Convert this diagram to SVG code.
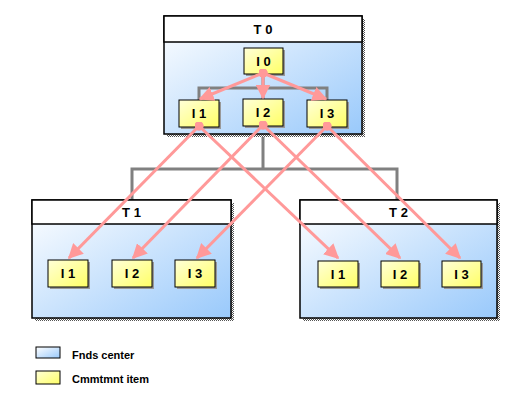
<svg xmlns="http://www.w3.org/2000/svg" width="524" height="405" viewBox="0 0 524 405">
<defs>
<linearGradient id="gc" x1="0" y1="0" x2="1" y2="1"><stop offset="0" stop-color="#ffffff"/><stop offset="1" stop-color="#99c9fb"/></linearGradient>
<linearGradient id="gi" x1="0" y1="0" x2="1" y2="1"><stop offset="0" stop-color="#ffffd8"/><stop offset="1" stop-color="#ffff66"/></linearGradient>
<pattern id="sh" width="2" height="2" patternUnits="userSpaceOnUse"><rect width="2" height="2" fill="#ffffff"/><rect width="1" height="1" fill="#555"/><rect x="1" y="1" width="1" height="1" fill="#555"/></pattern>
<marker id="ah" viewBox="0 0 10 10" refX="9" refY="5" markerWidth="5" markerHeight="5" orient="auto" markerUnits="strokeWidth"><path d="M0,0 L10,5 L0,10 z" fill="#ff9999"/></marker>
<marker id="dot" viewBox="0 0 10 10" refX="5" refY="5" markerWidth="3" markerHeight="3" markerUnits="strokeWidth"><circle cx="5" cy="5" r="5" fill="#ff9999"/></marker>
</defs>
<style>
.cont{fill:url(#gc);stroke:#000;stroke-width:1.5}
.hdr{fill:#fff;stroke:#000;stroke-width:1.5}
.item{fill:url(#gi);stroke:#000;stroke-width:1}
.ish{fill:#999}
.t{font-family:"Liberation Sans",Arial,sans-serif;font-weight:bold;font-size:13px;text-anchor:middle;fill:#000}
.lg{font-family:"Liberation Sans",Arial,sans-serif;font-weight:bold;font-size:11px;fill:#000}
.tree{fill:none;stroke:#808080;stroke-width:3}
.pk{fill:none;stroke:#ff9999;stroke-width:3;marker-end:url(#ah);marker-start:url(#dot)}
</style>
<rect width="524" height="405" fill="#fff"/>
<g id="tree">
<path class="tree" d="M263,134 V169 M132,200 V169 H397 V200"/>
</g>
<g id="T0">
<rect x="167" y="19" width="198" height="118" fill="url(#sh)"/>
<rect class="cont" x="164" y="16" width="198" height="118"/>
<rect class="hdr" x="164" y="16" width="198" height="26"/>
<text class="t" x="263" y="34">T 0</text>
<path class="tree" d="M263,74 V99 M199,100 V88 H327 V100"/>
<g id="T0_I0"><rect class="ish" x="246" y="50" width="39" height="26"/><rect class="item" x="244" y="48" width="39" height="26"/><text class="t" x="263.5" y="66">I 0</text></g>
<g id="T0_I1"><rect class="ish" x="181" y="102" width="40" height="27"/><rect class="item" x="179" y="100" width="40" height="27"/><text class="t" x="199" y="118">I 1</text></g>
<g id="T0_I2"><rect class="ish" x="245" y="101" width="40" height="27"/><rect class="item" x="243" y="99" width="40" height="27"/><text class="t" x="263" y="117">I 2</text></g>
<g id="T0_I3"><rect class="ish" x="309" y="102" width="40" height="27"/><rect class="item" x="307" y="100" width="40" height="27"/><text class="t" x="327" y="118">I 3</text></g>
</g>
<g id="T1">
<rect x="35" y="203" width="199" height="118" fill="url(#sh)"/>
<rect class="cont" x="32" y="200" width="199" height="118"/>
<rect class="hdr" x="32" y="200" width="199" height="24"/>
<text class="t" x="131.5" y="217">T 1</text>
<g id="T1_I1"><rect class="ish" x="50" y="262" width="40" height="27"/><rect class="item" x="48" y="260" width="40" height="27"/><text class="t" x="68" y="278">I 1</text></g>
<g id="T1_I2"><rect class="ish" x="114" y="262" width="40" height="27"/><rect class="item" x="112" y="260" width="40" height="27"/><text class="t" x="132" y="278">I 2</text></g>
<g id="T1_I3"><rect class="ish" x="177" y="262" width="40" height="27"/><rect class="item" x="175" y="260" width="40" height="27"/><text class="t" x="195" y="278">I 3</text></g>
</g>
<g id="T2">
<rect x="303" y="203" width="197" height="118" fill="url(#sh)"/>
<rect class="cont" x="300" y="200" width="197" height="118"/>
<rect class="hdr" x="300" y="200" width="197" height="24"/>
<text class="t" x="398.5" y="217">T 2</text>
<g id="T2_I1"><rect class="ish" x="320" y="263" width="40" height="26"/><rect class="item" x="318" y="261" width="40" height="26"/><text class="t" x="338" y="279">I 1</text></g>
<g id="T2_I2"><rect class="ish" x="383" y="263" width="38" height="26"/><rect class="item" x="381" y="261" width="38" height="26"/><text class="t" x="400" y="279">I 2</text></g>
<g id="T2_I3"><rect class="ish" x="444" y="263" width="39" height="26"/><rect class="item" x="442" y="261" width="39" height="26"/><text class="t" x="461.5" y="279">I 3</text></g>
</g>
<g id="connectors">
<path class="pk" d="M263,73 L200,99"/>
<path class="pk" d="M263,73 L263,98"/>
<path class="pk" d="M263,73 L326,99"/>
<path class="pk" d="M199,126 L69,258"/>
<path class="pk" d="M199,126 L338,258"/>
<path class="pk" d="M263,125 L133,258"/>
<path class="pk" d="M263,125 L400,258"/>
<path class="pk" d="M327,126 L197,258"/>
<path class="pk" d="M327,126 L460,258"/>
</g>
<g id="legend">
<rect x="36" y="347" width="24" height="11" fill="url(#gc)" stroke="#000"/>
<text class="lg" x="72" y="359">Fnds center</text>
<rect x="36" y="371" width="24" height="13" fill="url(#gi)" stroke="#000"/>
<text class="lg" x="72" y="383">Cmmtmnt item</text>
</g>
</svg>
